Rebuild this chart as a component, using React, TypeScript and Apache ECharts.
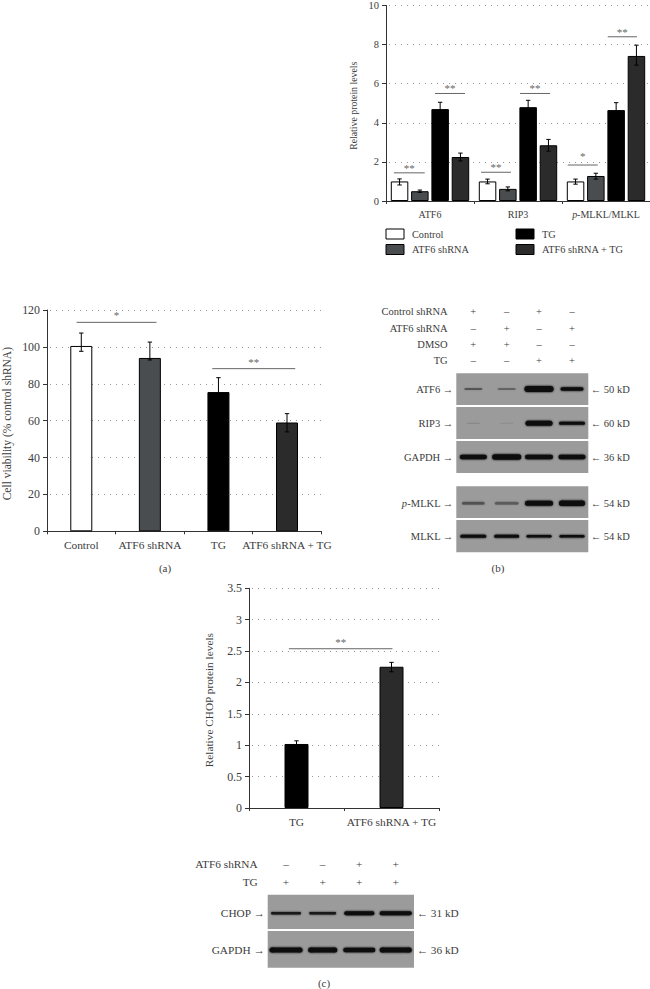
import React, { useEffect, useRef } from "react";
import * as echarts from "echarts";

// ---------- data ----------
const proteinCategories = ["ATF6", "RIP3", "p-MLKL/MLKL"];
const groupNames = ["Control", "ATF6 shRNA", "TG", "ATF6 shRNA + TG"];
const proteinControl = [1.0, 1.0, 1.0];
const proteinShRNA = [0.5, 0.62, 1.28];
const proteinTG = [4.7, 4.8, 4.65];
const proteinBoth = [2.25, 2.85, 7.42];
const proteinValues = [proteinControl, proteinShRNA, proteinTG, proteinBoth];
const proteinErrHigh = [
  [1.13, 1.12, 1.12],
  [0.56, 0.72, 1.42],
  [5.05, 5.15, 5.03],
  [2.45, 3.15, 7.97],
];
const proteinErrLow = [
  [0.82, 0.88, 0.86],
  [0.44, 0.52, 1.12],
  [4.35, 4.45, 4.3],
  [2.05, 2.55, 6.95],
];
const proteinBrackets = [
  { a: 0.09, b: 0.44, y: 1.44, s: "**" },
  { a: 0.557, b: 0.898, y: 5.5, s: "**" },
  { a: 1.08, b: 1.42, y: 1.47, s: "**" },
  { a: 1.523, b: 1.864, y: 5.5, s: "**" },
  { a: 2.065, b: 2.406, y: 1.84, s: "*" },
  { a: 2.52, b: 2.852, y: 8.4, s: "**" },
];

const viabilityValues = [100.5, 94, 75.5, 59];
const viabilityHigh = [107.5, 102.6, 83.3, 63.8];
const viabilityLow = [97.6, 92.9, 70, 53.9];
const viabilityBrackets = [
  { a: 0.432, b: 1.597, y: 113.3, s: "*" },
  { a: 2.41, b: 3.62, y: 88.2, s: "**" },
];

const chopCategories = ["TG", "ATF6 shRNA + TG"];
const chopValues = [1.02, 2.25];
const chopHigh = [1.07, 2.32];
const chopLow = [0.97, 2.17];
const chopBrackets = [{ a: 0.42, b: 1.51, y: 2.537, s: "**" }];

const colors = ["#ffffff", "#4a4d50", "#000000", "#2b2b2b"];
const TXT = "#3c3c3c";
const FONT = '"Liberation Serif", serif';

// blot rows
const bRows = [
  { name: "Control shRNA", marks: ["+", "–", "+", "–"] },
  { name: "ATF6 shRNA", marks: ["–", "+", "–", "+"] },
  { name: "DMSO", marks: ["+", "+", "–", "–"] },
  { name: "TG", marks: ["–", "–", "+", "+"] },
];
const cRows = [
  { name: "ATF6 shRNA", marks: ["–", "–", "+", "+"] },
  { name: "TG", marks: ["+", "+", "+", "+"] },
];
// each band: [width, height, opacity]
const bPanels = [
  { name: "ATF6", kd: "50 kD", top: 373.3, bottom: 405, y: 389, bands: [[18, 2, 0.4], [18, 2, 0.32], [29, 6, 1], [23, 3.5, 1]] },
  { name: "RIP3", kd: "60 kD", top: 407, bottom: 439, y: 423.3, bands: [[13, 1, 0.14], [13, 1, 0.1], [27, 5, 1], [26, 3, 1]] },
  { name: "GAPDH", kd: "36 kD", top: 441, bottom: 473, y: 457, bands: [[27, 4.5, 1], [29, 5.5, 1], [28, 4.5, 1], [27, 4.5, 1]] },
  { name: "{i|p}-MLKL", kd: "54 kD", top: 486.3, bottom: 518, y: 503.3, bands: [[23, 3, 0.4], [24, 3, 0.35], [28, 5, 1], [26, 5.5, 1]] },
  { name: "MLKL", kd: "54 kD", top: 520, bottom: 552.3, y: 536.3, bands: [[26, 3, 1], [25, 3, 1], [25, 2.5, 1], [25, 2.5, 1]] },
];
const cPanels = [
  { name: "CHOP", kd: "31 kD", top: 894.7, bottom: 929, y: 913.3, bands: [[30, 2.5, 0.85], [27, 2.5, 0.85], [30, 4, 1], [32, 4, 1]] },
  { name: "GAPDH", kd: "36 kD", top: 931, bottom: 967.7, y: 950, bands: [[33, 5, 1], [29, 5, 1], [32, 4.5, 1], [32, 5, 1]] },
];
const bLanes = [473.3, 506.7, 539, 572];
const cLanes = [286, 322.7, 359.3, 395.7];

// ---------- helpers ----------
function txt(text: string, x: number, y: number, align: string, size = 10.5, fill = TXT) {
  return {
    type: "text",
    silent: true,
    style: {
      text,
      x,
      y,
      align,
      verticalAlign: "middle",
      fill,
      font: `${size}px ${FONT}`,
      rich: { i: { fontStyle: "italic", fontFamily: FONT, fontSize: size, fill } },
    },
  };
}

function blot(
  panels: typeof bPanels,
  lanes: number[],
  rows: typeof bRows,
  rowYs: number[],
  left: number,
  right: number,
  labelX: number,
  kdX: number,
  size: number
) {
  const out: any[] = [];
  rows.forEach((r, i) => {
    out.push(txt(r.name, labelX, rowYs[i], "right", size));
    r.marks.forEach((m, j) => out.push(txt(m, lanes[j], rowYs[i], "center", size)));
  });
  panels.forEach((p) => {
    out.push({
      type: "rect",
      silent: true,
      shape: { x: left, y: p.top, width: right - left, height: p.bottom - p.top },
      style: { fill: "#9b9b9b" },
    });
    p.bands.forEach((b, j) => {
      const c = `rgba(8,8,8,${b[2]})`;
      out.push({
        type: "rect",
        silent: true,
        shape: { x: lanes[j] - b[0] / 2, y: p.y - b[1] / 2, width: b[0], height: b[1], r: b[1] / 2 },
        style: { fill: c, shadowBlur: 2.5, shadowColor: c },
      });
    });
    out.push(txt(p.name + " →", left - 3, p.y, "right", size));
    out.push(txt("← " + p.kd, kdX, p.y, "left", size));
  });
  return out;
}

function errorSeries(idx: number, rows: { x: number; hi: number; lo: number; off: number }[]) {
  return {
    type: "custom",
    xAxisIndex: idx,
    yAxisIndex: idx,
    silent: true,
    z: 5,
    clip: false,
    encode: { x: 0, y: 1 },
    data: rows.map((r) => [r.x, r.hi, r.lo, r.off]),
    renderItem: (_p: any, api: any) => {
      const top = api.coord([api.value(0), api.value(1)]);
      const bot = api.coord([api.value(0), api.value(2)]);
      const x = top[0] + api.value(3);
      const st = { stroke: "#000", lineWidth: 1, fill: "none" };
      return {
        type: "group",
        children: [
          { type: "line", shape: { x1: x, y1: top[1], x2: x, y2: bot[1] }, style: st },
          { type: "line", shape: { x1: x - 2.2, y1: top[1], x2: x + 2.2, y2: top[1] }, style: st },
          { type: "line", shape: { x1: x - 2.2, y1: bot[1], x2: x + 2.2, y2: bot[1] }, style: st },
        ],
      };
    },
  };
}

function bracketSeries(idx: number, rows: { a: number; b: number; y: number; s: string }[], lift: number, singleLift = lift) {
  return {
    type: "custom",
    xAxisIndex: idx,
    yAxisIndex: idx,
    silent: true,
    z: 6,
    clip: false,
    encode: { x: 0, y: 1 },
    data: rows.map((r) => [0, r.y, r.a, r.b]),
    renderItem: (p: any, api: any) => {
      const c = api.coord([0, api.value(1)]);
      const band = api.size([1, 0])[0];
      const x0 = c[0] - band / 2 + api.value(2) * band;
      const x1 = c[0] - band / 2 + api.value(3) * band;
      const s = rows[p.dataIndex].s;
      return {
        type: "group",
        children: [
          { type: "line", shape: { x1: x0, y1: c[1], x2: x1, y2: c[1] }, style: { stroke: "#666", lineWidth: 1, fill: "none" } },
          {
            type: "text",
            style: {
              text: s,
              x: (x0 + x1) / 2,
              y: c[1] - (s === "*" ? singleLift : lift),
              align: "center",
              verticalAlign: "middle",
              fill: "#666",
              font: `11px ${FONT}`,
            },
          },
        ],
      };
    },
  };
}

function axisPair(gridIndex: number, cats: string[], max: number, interval: number, name: string, gap: number, size: number, nameSize: number, nameShift: number, formatter?: any) {
  const line = { show: true, lineStyle: { color: "#333", width: 1 } };
  return {
    x: {
      type: "category",
      gridIndex,
      data: cats,
      axisLine: line,
      axisTick: { show: true, length: 3, lineStyle: { color: "#333" }, alignWithLabel: false },
      splitLine: { show: false },
      axisLabel: {
        interval: 0,
        margin: 8,
        color: TXT,
        fontFamily: FONT,
        fontSize: size,
        formatter,
        rich: { i: { fontStyle: "italic", fontFamily: FONT, fontSize: size, color: TXT } },
      },
    },
    y: {
      type: "value",
      gridIndex,
      min: 0,
      max,
      interval,
      name,
      nameLocation: "middle",
      nameGap: gap,
      nameRotate: 90,
      nameTextStyle: { color: TXT, fontFamily: FONT, fontSize: nameSize, padding: [0, nameShift, 0, 0] },
      axisLine: line,
      axisTick: { show: true, length: 4, lineStyle: { color: "#333" } },
      splitLine: { show: true, lineStyle: { color: "#999", width: 1, type: [1, 5], dashOffset: 3 } },
      axisLabel: { margin: 7, color: TXT, fontFamily: FONT, fontSize: size + 0.5 },
    },
  };
}

const legendBase = {
  orient: "vertical",
  top: 228.5,
  padding: 0,
  icon: "rect",
  itemWidth: 18,
  itemHeight: 10,
  itemGap: 4.5,
  selectedMode: false,
  itemStyle: { borderColor: "#000", borderWidth: 1 },
  textStyle: { color: TXT, fontFamily: FONT, fontSize: 10.3, padding: [0, 0, 0, 3] },
};

export default function App() {
  const ref = useRef<HTMLDivElement>(null);
  useEffect(() => {
    if (!ref.current) return;
    const chart = echarts.init(ref.current, undefined, { renderer: "svg" });
    const a0 = axisPair(0, proteinCategories, 10, 2, "Relative protein levels", 28, 10, 9.8, 5, (v: string) =>
      v.startsWith("p-") ? "{i|p}" + v.slice(1) : v
    );
    const a1 = axisPair(1, groupNames, 120, 20, "Cell viability (% control shRNA)", 34, 11.4, 11.5, 6);
    const a2 = axisPair(2, chopCategories, 3.5, 0.5, "Relative CHOP protein levels", 35, 11.4, 11.3, 4);
    const barStyle = (c: string) => ({ color: c, borderColor: "#000", borderWidth: 1 });
    const pitch = 20.3;

    const protErr: { x: number; hi: number; lo: number; off: number }[] = [];
    proteinValues.forEach((_, s) =>
      proteinCategories.forEach((_c, i) =>
        protErr.push({ x: i, hi: proteinErrHigh[s][i], lo: proteinErrLow[s][i], off: (s - 1.5) * pitch })
      )
    );

    chart.setOption({
      animation: false,
      backgroundColor: "#fff",
      textStyle: { fontFamily: FONT },
      grid: [
        { left: 386, top: 4, width: 264, height: 197 },
        { left: 46.3, top: 310, width: 275, height: 221.3 },
        { left: 249, top: 588.3, width: 190, height: 219.7 },
      ],
      xAxis: [a0.x, a1.x, a2.x],
      yAxis: [a0.y, a1.y, a2.y],
      legend: [
        { ...legendBase, data: groupNames.slice(0, 2), left: 385.5 },
        { ...legendBase, data: groupNames.slice(2), left: 515.5 },
      ],
      series: [
        ...proteinValues.map((vals, s) => ({
          type: "bar",
          name: groupNames[s],
          xAxisIndex: 0,
          yAxisIndex: 0,
          barWidth: 17.5,
          barGap: "16%",
          itemStyle: barStyle(colors[s]),
          data: vals,
        })),
        {
          type: "bar",
          xAxisIndex: 1,
          yAxisIndex: 1,
          barWidth: 22,
          data: viabilityValues.map((v, i) => ({ value: v, itemStyle: barStyle(colors[i]) })),
        },
        {
          type: "bar",
          xAxisIndex: 2,
          yAxisIndex: 2,
          barWidth: 24,
          data: chopValues.map((v, i) => ({ value: v, itemStyle: barStyle(colors[i + 2]) })),
        },
        errorSeries(0, protErr),
        errorSeries(1, viabilityValues.map((_, i) => ({ x: i, hi: viabilityHigh[i], lo: viabilityLow[i], off: 0 }))),
        errorSeries(2, chopValues.map((_, i) => ({ x: i, hi: chopHigh[i], lo: chopLow[i], off: 0 }))),
        bracketSeries(0, proteinBrackets, 5, 9),
        bracketSeries(1, viabilityBrackets, 7),
        bracketSeries(2, chopBrackets, 7),
      ],
      graphic: {
        elements: [
          ...blot(bPanels, bLanes, bRows, [311.7, 328.3, 344.3, 360.7], 456.3, 588.3, 447.7, 590.7, 10.5),
          ...blot(cPanels, cLanes, cRows, [864, 881.7], 267.7, 414, 257.7, 416.7, 11.3),
          txt("(a)", 165, 568, "center", 11),
          txt("(b)", 498, 567.7, "center", 11),
          txt("(c)", 324, 983, "center", 11),
        ],
      },
    });
    return () => chart.dispose();
  }, []);
  return <div ref={ref} style={{ position: "absolute", left: 0, top: 0, width: 650, height: 989 }} />;
}
